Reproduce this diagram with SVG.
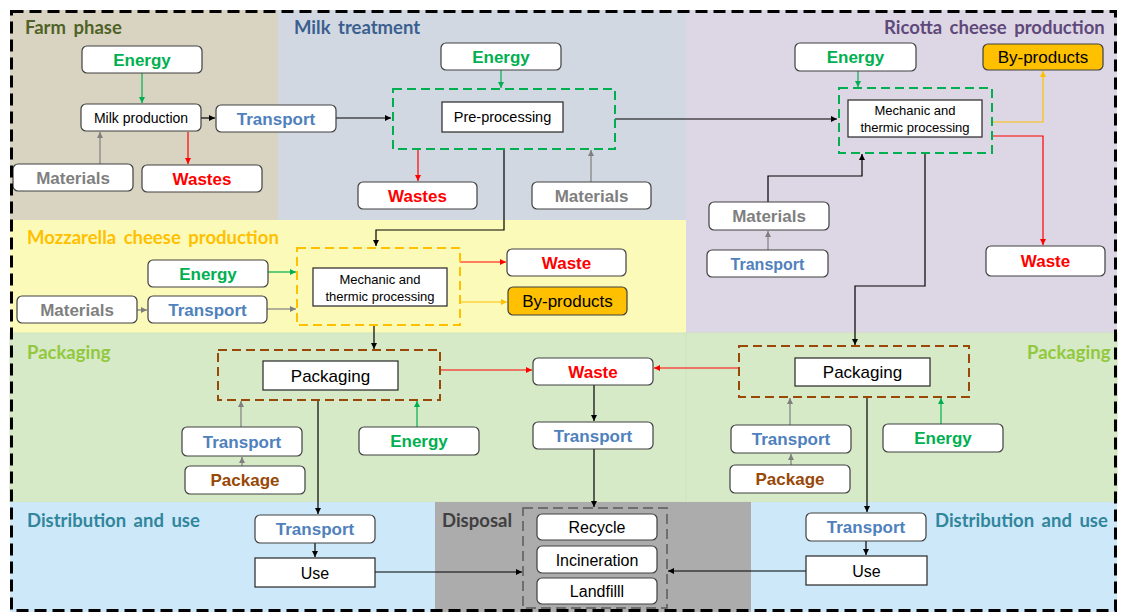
<svg xmlns="http://www.w3.org/2000/svg" width="1121" height="615" viewBox="0 0 1121 615">
<style>
.box{fill:#fff;stroke:#404040;stroke-width:1.2}
.sq{fill:#fff;stroke:#262626;stroke-width:1.2}
.yb{fill:#ffc000;stroke:#404040;stroke-width:1.2}
.dg{fill:none;stroke:#00b050;stroke-width:2;stroke-dasharray:9 5}
.dy{fill:none;stroke:#ffc000;stroke-width:2;stroke-dasharray:9 5}
.db{fill:none;stroke:#984807;stroke-width:2;stroke-dasharray:9 5}
.dd{fill:none;stroke:#5a5a5a;stroke-width:1.5;stroke-dasharray:10 5}
.b{font-family:"Liberation Sans",Arial,sans-serif;font-weight:bold;font-size:17px;text-anchor:middle}
.n{font-family:"Liberation Sans",Arial,sans-serif;font-size:16px;text-anchor:middle;fill:#000}
.s{font-family:"Liberation Sans",Arial,sans-serif;font-size:13px;text-anchor:middle;fill:#000}
.en{fill:#00b050}.tr{fill:#4f81bd}.ma{fill:#7f7f7f}.wa{fill:#ff0000}.pk{fill:#984807}
.lab{font-family:Lato,"Open Sans",sans-serif;font-weight:bold;font-size:18.5px;word-spacing:3px}
.c{fill:none;stroke-width:1.2}
.ck{stroke:#000}.cg{stroke:#00b050}.cr{stroke:#ff0000}.cy{stroke:#ffc000}.cs{stroke:#7f7f7f}
</style>
<defs>
<marker id="ak" viewBox="0 0 10 10" refX="10" refY="5" markerWidth="6" markerHeight="6" markerUnits="userSpaceOnUse" orient="auto"><path d="M0,0 L10,5 L0,10 z" fill="#000"/></marker>
<marker id="ag" viewBox="0 0 10 10" refX="10" refY="5" markerWidth="6" markerHeight="6" markerUnits="userSpaceOnUse" orient="auto"><path d="M0,0 L10,5 L0,10 z" fill="#00b050"/></marker>
<marker id="ar" viewBox="0 0 10 10" refX="10" refY="5" markerWidth="6" markerHeight="6" markerUnits="userSpaceOnUse" orient="auto"><path d="M0,0 L10,5 L0,10 z" fill="#ff0000"/></marker>
<marker id="ay" viewBox="0 0 10 10" refX="10" refY="5" markerWidth="6" markerHeight="6" markerUnits="userSpaceOnUse" orient="auto"><path d="M0,0 L10,5 L0,10 z" fill="#ffc000"/></marker>
<marker id="as" viewBox="0 0 10 10" refX="10" refY="5" markerWidth="6" markerHeight="6" markerUnits="userSpaceOnUse" orient="auto"><path d="M0,0 L10,5 L0,10 z" fill="#7f7f7f"/></marker>
</defs>
<rect width="1121" height="615" fill="#fff"/>
<g id="regions">
<rect x="10" y="10" width="268" height="210" fill="#d9d4c1"/>
<rect x="278" y="10" width="408" height="210" fill="#d2d8e2"/>
<rect x="686" y="10" width="431" height="323" fill="#ddd7e5"/>
<rect x="10" y="220" width="676" height="113" fill="#fcfab9"/>
<rect x="10" y="333" width="676" height="169" fill="#d7eac7" stroke="#cfe6bd" stroke-width="1"/>
<rect x="686" y="333" width="431" height="169" fill="#d7eac7" stroke="#cfe6bd" stroke-width="1"/>
<rect x="10" y="502" width="425" height="110" fill="#cde9f9"/>
<rect x="435" y="502" width="316" height="110" fill="#acacac"/>
<rect x="751" y="502" width="366" height="110" fill="#cde9f9"/>
<text class="lab" x="25" y="34" fill="#4f6228">Farm phase</text>
<text class="lab" x="294" y="34" fill="#3b5f8f">Milk treatment</text>
<text class="lab" x="884" y="34" fill="#5f497a">Ricotta cheese production</text>
<text class="lab" x="27" y="244" fill="#ffc000">Mozzarella cheese production</text>
<text class="lab" x="27" y="359" fill="#92c83e">Packaging</text>
<text class="lab" x="1027" y="359" fill="#92c83e">Packaging</text>
<text class="lab" x="27" y="527" fill="#31859c">Distribution and use</text>
<text class="lab" x="442" y="527" fill="#404040">Disposal</text>
<text class="lab" x="935" y="527" fill="#31859c">Distribution and use</text>
</g>
<g id="connectors">
<path class="c cg" d="M142,73 V103" marker-end="url(#ag)"/>
<path class="c ck" d="M201,118 H215" marker-end="url(#ak)"/>
<path class="c cr" d="M188,132 V164" marker-end="url(#ar)"/>
<path class="c cs" d="M100,164 V132" marker-end="url(#as)"/>
<path class="c ck" d="M336,118 H391" marker-end="url(#ak)"/>
<path class="c cg" d="M501,70 V88" marker-end="url(#ag)"/>
<path class="c cr" d="M418,149 V181" marker-end="url(#ar)"/>
<path class="c cs" d="M591,182 V150" marker-end="url(#as)"/>
<path class="c ck" d="M615,119 H837" marker-end="url(#ak)"/>
<path class="c ck" d="M504,149 V230 H376 V246" marker-end="url(#ak)"/>
<path class="c cg" d="M858,71 V87" marker-end="url(#ag)"/>
<path class="c cy" d="M992,122 H1043 V71" marker-end="url(#ay)"/>
<path class="c cr" d="M992,136 H1043 V245" marker-end="url(#ar)"/>
<path class="c ck" d="M768,202 V176 H862 V154" marker-end="url(#ak)"/>
<path class="c cs" d="M768,250 V231" marker-end="url(#as)"/>
<path class="c ck" d="M925,153 V286 H855 V345" marker-end="url(#ak)"/>
<path class="c cs" d="M137,310 H147" marker-end="url(#as)"/>
<path class="c cg" d="M268,272 H296" marker-end="url(#ag)"/>
<path class="c cs" d="M267,309 H296" marker-end="url(#as)"/>
<path class="c cr" d="M460,262 H506" marker-end="url(#ar)"/>
<path class="c cy" d="M460,302 H507" marker-end="url(#ay)"/>
<path class="c ck" d="M374,325 V349" marker-end="url(#ak)"/>
<path class="c cs" d="M241,427 V401" marker-end="url(#as)"/>
<path class="c cs" d="M242,466 V457" marker-end="url(#as)"/>
<path class="c cg" d="M417,427 V401" marker-end="url(#ag)"/>
<path class="c cr" d="M440,370 H532" marker-end="url(#ar)"/>
<path class="c ck" d="M318,400 V514" marker-end="url(#ak)"/>
<path class="c ck" d="M594,385 V421" marker-end="url(#ak)"/>
<path class="c ck" d="M594,449 V507" marker-end="url(#ak)"/>
<path class="c cr" d="M739,368 H654" marker-end="url(#ar)"/>
<path class="c cs" d="M790,425 V398" marker-end="url(#as)"/>
<path class="c cs" d="M791,465 V454" marker-end="url(#as)"/>
<path class="c cg" d="M941,424 V398" marker-end="url(#ag)"/>
<path class="c ck" d="M867,397 V512" marker-end="url(#ak)"/>
<path class="c ck" d="M315,543 V557" marker-end="url(#ak)"/>
<path class="c ck" d="M375,572 H522" marker-end="url(#ak)"/>
<path class="c ck" d="M866,541 V555" marker-end="url(#ak)"/>
<path class="c ck" d="M806,571 H668" marker-end="url(#ak)"/>
</g>
<g id="f_energy"><rect class="box" x="82" y="46" width="120" height="27" rx="5"/><text class="b en" x="142" y="65.5">Energy</text></g>
<g id="f_milk"><rect class="box" x="81" y="104" width="120" height="27" rx="5"/><text class="n" x="141" y="123" style="font-size:14px">Milk production</text></g>
<g id="f_transport"><rect class="box" x="216" y="105" width="120" height="27" rx="5"/><text class="b tr" x="276" y="124.5">Transport</text></g>
<g id="f_materials"><rect class="box" x="13" y="164" width="120" height="27" rx="5"/><text class="b ma" x="73" y="183.5">Materials</text></g>
<g id="f_wastes"><rect class="box" x="142" y="165" width="120" height="27" rx="5"/><text class="b wa" x="202" y="184.5">Wastes</text></g>
<g id="m_energy"><rect class="box" x="441" y="43" width="120" height="27" rx="5"/><text class="b en" x="501" y="62.5">Energy</text></g>
<g id="m_pre"><rect class="dg" x="393" y="89" width="222" height="60"/><rect class="sq" x="442" y="102" width="121" height="30"/><text class="n" x="502.5" y="122" style="font-size:14.5px">Pre-processing</text></g>
<g id="m_wastes"><rect class="box" x="358" y="182" width="119" height="27" rx="5"/><text class="b wa" x="417.5" y="201.5">Wastes</text></g>
<g id="m_materials"><rect class="box" x="532" y="182" width="119" height="27" rx="5"/><text class="b ma" x="591.5" y="201.5">Materials</text></g>
<g id="r_energy"><rect class="box" x="795" y="43" width="121" height="28" rx="5"/><text class="b en" x="855.5" y="63">Energy</text></g>
<g id="r_byproducts"><rect class="yb" x="983" y="44" width="120" height="26" rx="5"/><text class="n" x="1043" y="63" style="font-size:17px">By-products</text></g>
<g id="r_mech"><rect class="dg" x="839" y="88" width="153" height="65"/><rect class="sq" x="848" y="100" width="134" height="37"/><text class="s" x="915" y="115">Mechanic and</text><text class="s" x="915" y="132">thermic processing</text></g>
<g id="r_waste"><rect class="box" x="986" y="246" width="119" height="30" rx="5"/><text class="b wa" x="1045.5" y="267">Waste</text></g>
<g id="r_materials"><rect class="box" x="709" y="202" width="120" height="28" rx="5"/><text class="b ma" x="769" y="222">Materials</text></g>
<g id="r_transport"><rect class="box" x="707" y="250" width="121" height="27" rx="5"/><text class="b tr" x="767.5" y="269.5" style="font-size:16px">Transport</text></g>
<g id="z_energy"><rect class="box" x="148" y="260" width="120" height="27" rx="5"/><text class="b en" x="208" y="279.5">Energy</text></g>
<g id="z_materials"><rect class="box" x="17" y="296" width="120" height="27" rx="5"/><text class="b ma" x="77" y="315.5">Materials</text></g>
<g id="z_transport"><rect class="box" x="148" y="296" width="119" height="27" rx="5"/><text class="b tr" x="207.5" y="315.5">Transport</text></g>
<g id="z_mech"><rect class="dy" x="297" y="248" width="163" height="77"/><rect class="sq" x="313" y="268" width="134" height="38"/><text class="s" x="380" y="284">Mechanic and</text><text class="s" x="380" y="301">thermic processing</text></g>
<g id="z_waste"><rect class="box" x="507" y="249" width="119" height="27" rx="5"/><text class="b wa" x="566.5" y="268.5">Waste</text></g>
<g id="z_byproducts"><rect class="yb" x="508" y="287" width="119" height="28" rx="5"/><text class="n" x="567.5" y="307" style="font-size:17px">By-products</text></g>
<g id="pl_packaging"><rect class="db" x="218" y="350" width="222" height="50"/><rect class="sq" x="263" y="361" width="135" height="29"/><text class="n" x="330.5" y="381.5" style="font-size:17px">Packaging</text></g>
<g id="pl_transport"><rect class="box" x="182" y="427" width="120" height="29" rx="5"/><text class="b tr" x="242" y="447.5">Transport</text></g>
<g id="pl_package"><rect class="box" x="185" y="466" width="120" height="28" rx="5"/><text class="b pk" x="245" y="486">Package</text></g>
<g id="pl_energy"><rect class="box" x="359" y="427" width="120" height="28" rx="5"/><text class="b en" x="419" y="447">Energy</text></g>
<g id="c_waste"><rect class="box" x="533" y="358" width="120" height="27" rx="5"/><text class="b wa" x="593" y="377.5">Waste</text></g>
<g id="c_transport"><rect class="box" x="533" y="422" width="120" height="27" rx="5"/><text class="b tr" x="593" y="441.5">Transport</text></g>
<g id="pr_packaging"><rect class="db" x="739" y="346" width="230" height="51"/><rect class="sq" x="795" y="358" width="135" height="28"/><text class="n" x="862.5" y="378" style="font-size:17px">Packaging</text></g>
<g id="pr_transport"><rect class="box" x="731" y="425" width="120" height="28" rx="5"/><text class="b tr" x="791" y="445">Transport</text></g>
<g id="pr_package"><rect class="box" x="730" y="465" width="120" height="28" rx="5"/><text class="b pk" x="790" y="485">Package</text></g>
<g id="pr_energy"><rect class="box" x="883" y="424" width="120" height="28" rx="5"/><text class="b en" x="943" y="444">Energy</text></g>
<g id="dl_transport"><rect class="box" x="255" y="515" width="120" height="28" rx="5"/><text class="b tr" x="315" y="535">Transport</text></g>
<g id="dl_use"><rect class="sq" x="255" y="558" width="120" height="29"/><text class="n" x="315" y="578.5">Use</text></g>
<g id="disposal"><rect class="dd" x="523" y="508" width="144" height="100"/>
<rect class="box" x="537" y="514" width="120" height="26" rx="5"/><text class="n" x="597" y="533">Recycle</text>
<rect class="box" x="537" y="546" width="120" height="27" rx="5"/><text class="n" x="597" y="565.5">Incineration</text>
<rect class="box" x="537" y="578" width="120" height="26" rx="5"/><text class="n" x="597" y="597">Landfilll</text></g>
<g id="dr_transport"><rect class="box" x="806" y="513" width="120" height="28" rx="5"/><text class="b tr" x="866" y="533">Transport</text></g>
<g id="dr_use"><rect class="sq" x="806" y="556" width="121" height="29"/><text class="n" x="866.5" y="576.5">Use</text></g>
<rect x="11.5" y="11.5" width="1104" height="599" fill="none" stroke="#000" stroke-width="3" stroke-dasharray="12 6"/>
</svg>
